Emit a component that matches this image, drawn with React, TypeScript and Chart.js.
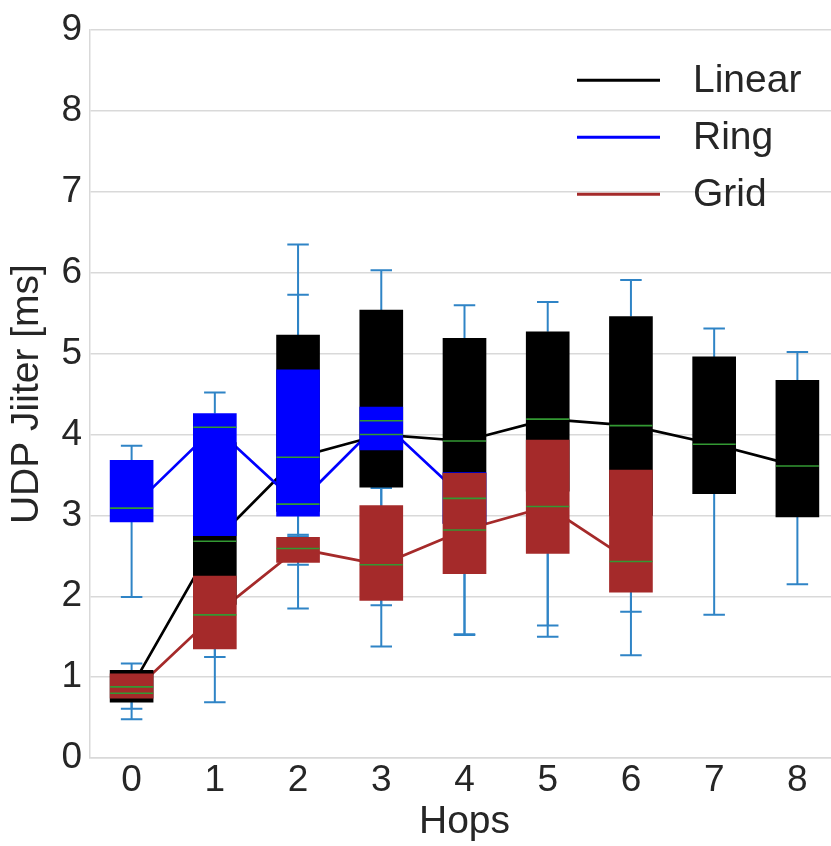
import React, { useEffect, useRef } from 'react';
import { Chart, registerables } from 'chart.js';

Chart.register(...registerables);

// ---- data ----
const hops = [0, 1, 2, 3, 4, 5, 6, 7, 8];
const yTickValues = [0, 1, 2, 3, 4, 5, 6, 7, 8, 9];

const linearQ1 = [0.69, 1.9, 3.05, 3.35, 2.9, 3.3, 3.0, 3.27, 2.98];
const linearMed = [0.88, 2.68, 3.72, 4.0, 3.92, 4.19, 4.11, 3.88, 3.61];
const linearQ3 = [1.085, 3.9, 5.23, 5.54, 5.19, 5.27, 5.46, 4.96, 4.67];
const linearLo = [0.48, 0.69, 1.85, 1.38, 1.53, 1.5, 1.27, 1.77, 2.15];
const linearHi = [1.17, 4.1, 6.35, 6.03, 5.6, 5.64, 5.91, 5.31, 5.02];

const ringQ1 = [2.92, 2.75, 2.99, 3.81, 2.9];
const ringMed = [3.09, 4.09, 3.14, 4.17, 3.21];
const ringQ3 = [3.68, 4.26, 4.8, 4.34, 3.53];
const ringLo = [1.99, 2.3, 2.76, 3.5, 2.4];
const ringHi = [3.86, 4.52, 5.73, 5.0, 4.4];

const gridQ1 = [0.74, 1.35, 2.42, 1.95, 2.28, 2.53, 2.05];
const gridMed = [0.8, 1.77, 2.59, 2.39, 2.82, 3.11, 2.43];
const gridQ3 = [1.04, 2.25, 2.73, 3.12, 3.52, 3.93, 3.56];
const gridLo = [0.61, 1.25, 2.39, 1.89, 1.52, 1.64, 1.81];
const gridHi = [1.06, 2.5, 2.74, 3.34, 4.3, 4.5, 4.2];

// ---- styles ----
const TEXT = '#262626';
const GRIDC = '#d9d9d9';
const WHISKER = '#2f84c6';
const MEDIAN = '#339933';
const FONT = "'Liberation Sans', Arial, sans-serif";
const BOX_PX = 43;

const SERIES = [
  { label: 'Linear', color: '#000000', q1: linearQ1, med: linearMed, q3: linearQ3, lo: linearLo, hi: linearHi },
  { label: 'Ring', color: '#0000ff', q1: ringQ1, med: ringMed, q3: ringQ3, lo: ringLo, hi: ringHi },
  { label: 'Grid', color: '#a52a2a', q1: gridQ1, med: gridMed, q3: gridQ3, lo: gridLo, hi: gridHi },
];

const clipArea = (chart: any) => {
  const { ctx, chartArea: a } = chart;
  ctx.beginPath();
  ctx.rect(a.left, a.top, a.right - a.left, a.bottom - a.top);
  ctx.clip();
};

const whiskerPlugin = {
  id: 'whiskers',
  beforeDatasetsDraw(chart: any) {
    const { ctx, scales } = chart;
    const x = scales.x, y = scales.y;
    ctx.save();
    clipArea(chart);
    ctx.strokeStyle = WHISKER;
    ctx.lineWidth = 2;
    ctx.lineCap = 'butt';
    SERIES.forEach((s) => {
      s.q1.forEach((q1: number, i: number) => {
        const px = x.getPixelForValue(hops[i]);
        const yq1 = y.getPixelForValue(q1);
        const yq3 = y.getPixelForValue(s.q3[i]);
        const ylo = y.getPixelForValue(s.lo[i]);
        const yhi = y.getPixelForValue(s.hi[i]);
        const c = BOX_PX / 4;
        ctx.beginPath();
        ctx.moveTo(px, yq1); ctx.lineTo(px, ylo);
        ctx.moveTo(px, yq3); ctx.lineTo(px, yhi);
        ctx.moveTo(px - c, ylo); ctx.lineTo(px + c, ylo);
        ctx.moveTo(px - c, yhi); ctx.lineTo(px + c, yhi);
        ctx.stroke();
      });
    });
    ctx.restore();
  },
};

const medianPlugin = {
  id: 'medians',
  afterDatasetsDraw(chart: any) {
    const { ctx, scales } = chart;
    const x = scales.x, y = scales.y;
    ctx.save();
    clipArea(chart);
    ctx.strokeStyle = MEDIAN;
    ctx.lineWidth = 1.6;
    SERIES.forEach((s) => {
      s.med.forEach((m: number, i: number) => {
        const px = x.getPixelForValue(hops[i]);
        const py = y.getPixelForValue(m);
        ctx.beginPath();
        ctx.moveTo(px - BOX_PX / 2, py);
        ctx.lineTo(px + BOX_PX / 2, py);
        ctx.stroke();
      });
    });
    ctx.restore();
  },
};

const legendPlugin = {
  id: 'innerLegend',
  afterDraw(chart: any) {
    const { ctx, chartArea } = chart;
    ctx.save();
    SERIES.forEach((s, k) => {
      const yy = chartArea.top + 50 + k * 57;
      ctx.strokeStyle = s.color;
      ctx.lineWidth = 3;
      ctx.beginPath();
      ctx.moveTo(chartArea.right - 262, yy);
      ctx.lineTo(chartArea.right - 179, yy);
      ctx.stroke();
      ctx.fillStyle = TEXT;
      ctx.font = `39px ${FONT}`;
      ctx.textAlign = 'left';
      ctx.textBaseline = 'middle';
      ctx.fillText(s.label, chartArea.right - 146, yy + 1);
    });
    ctx.restore();
  },
};

export default function App() {
  const ref = useRef<HTMLCanvasElement>(null);

  useEffect(() => {
    const barSets = SERIES.map((s, k) => ({
      type: 'bar' as const,
      label: s.label + ' box',
      data: s.q1.map((q, i) => ({ x: hops[i], y: [q, s.q3[i]] })),
      backgroundColor: s.color,
      borderWidth: 0,
      barThickness: BOX_PX,
      grouped: false,
      order: 3 - k,
    }));
    const lineSets = SERIES.map((s, k) => ({
      type: 'line' as const,
      label: s.label,
      data: s.med.map((m, i) => ({ x: hops[i], y: m })),
      borderColor: s.color,
      borderWidth: 2.7,
      pointRadius: 0,
      fill: false,
      tension: 0,
      order: 12 - k,
    }));

    const chart = new Chart(ref.current as HTMLCanvasElement, {
      type: 'bar',
      data: { datasets: [...barSets, ...lineSets] as any },
      options: {
        responsive: false,
        animation: false,
        layout: { padding: { top: 28, left: 0, right: 0, bottom: 0 } },
        plugins: { legend: { display: false }, tooltip: { enabled: false } },
        scales: {
          x: {
            type: 'linear',
            offset: false,
            min: -0.5,
            max: 8.5,
            afterBuildTicks: (s: any) => { s.ticks = hops.map((v) => ({ value: v })); },
            afterFit: (s: any) => { s.height = 88; },
            grid: { display: false, drawTicks: false, offset: false },
            border: { display: true, color: GRIDC, width: 1.5 },
            ticks: { color: TEXT, font: { family: FONT, size: 37 }, padding: 1, maxRotation: 0, autoSkip: false },
            title: { display: true, text: 'Hops', color: TEXT, font: { family: FONT, size: 39 }, padding: { top: 0, bottom: 0 } },
          },
          y: {
            type: 'linear',
            min: 0,
            max: 9,
            afterBuildTicks: (s: any) => { s.ticks = yTickValues.map((v) => ({ value: v })); },
            afterFit: (s: any) => { s.width = 90; },
            grid: { color: GRIDC, lineWidth: 1.5, drawTicks: false },
            border: { display: true, color: GRIDC, width: 1.5 },
            ticks: { color: TEXT, font: { family: FONT, size: 37 }, padding: 8 },
            title: { display: true, text: 'UDP Jiiter [ms]', color: TEXT, font: { family: FONT, size: 39 }, padding: { top: 4, bottom: 0 } },
          },
        },
      } as any,
      plugins: [whiskerPlugin, medianPlugin, legendPlugin],
    });
    return () => chart.destroy();
  }, []);

  return (
    <div style={{ position: 'fixed', left: 0, top: 0, width: 839, height: 846, background: '#ffffff' }}>
      <canvas ref={ref} width={839} height={846} style={{ width: 839, height: 846, display: 'block' }} />
    </div>
  );
}
